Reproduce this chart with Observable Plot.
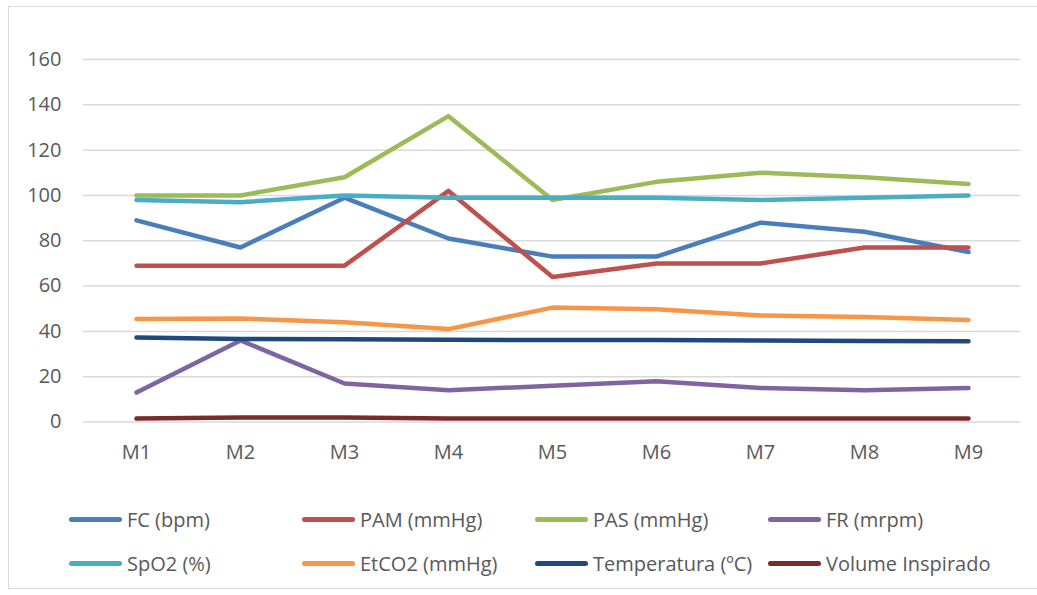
<!DOCTYPE html>
<html>
<head>
<meta charset="utf-8">
<script src="https://cdn.jsdelivr.net/npm/d3@7"></script>
<script src="https://cdn.jsdelivr.net/npm/@observablehq/plot@0.6"></script>
<style>
  html, body { margin: 0; padding: 0; background: #fff; }
  body { width: 1037px; height: 595px; position: relative; overflow: hidden; font-family: "Open Sans", sans-serif; }
  #frame { position: absolute; left: 8px; top: 6px; width: 1060px; height: 583px; border: 1.5px solid #d9d9d9; box-sizing: border-box; }
  #chart { position: absolute; left: 0; top: 0; }
  #legend { position: absolute; left: 0; top: 497px; width: 1037px; }
  .row { position: relative; height: 44px; }
  .item { position: absolute; top: 0; height: 44px; display: flex; align-items: center; font-size: 20px; color: #595959; white-space: nowrap; }
  .sw { width: 53px; height: 5px; border-radius: 3px; margin-right: 5px; }
</style>
</head>
<body>
<div id="frame"></div>
<div id="chart"></div>
<div id="legend"></div>
<script>
const months = ["M1","M2","M3","M4","M5","M6","M7","M8","M9"];
const seriesNames = ["FC (bpm)","PAM (mmHg)","PAS (mmHg)","FR (mrpm)","SpO2 (%)","EtCO2 (mmHg)","Temperatura (ºC)","Volume Inspirado"];
const seriesColors = ["#4A7EBB","#C0504D","#9BBB59","#8064A2","#4BACC6","#F79646","#1F497D","#772C2A"];
const fc = [89, 77, 99, 81, 73, 73, 88, 84, 75];
const pam = [69, 69, 69, 102, 64, 70, 70, 77, 77];
const pas = [100, 100, 108, 135, 98, 106, 110, 108, 105];
const fr = [13, 36, 17, 14, 16, 18, 15, 14, 15];
const spo2 = [98, 97, 100, 99, 99, 99, 98, 99, 100];
const etco2 = [45.5, 45.7, 44, 41, 50.5, 49.8, 47, 46.3, 45];
const temp = [37.3, 36.6, 36.5, 36.3, 36.2, 36.2, 36, 35.8, 35.6];
const volume = [1.5, 2, 2, 1.5, 1.5, 1.5, 1.5, 1.5, 1.5];
const yTicks = [0, 20, 40, 60, 80, 100, 120, 140, 160];

const seriesValues = [fc, pam, pas, fr, spo2, etco2, temp, volume];
const data = [];
seriesNames.forEach((name, i) => {
  months.forEach((m, j) => data.push({series: name, month: m, value: seriesValues[i][j]}));
});

const chart = Plot.plot({
  width: 1037,
  height: 490,
  marginTop: 59,
  marginBottom: 68.5,
  marginLeft: 83,
  marginRight: 17,
  style: {fontFamily: "'Open Sans', sans-serif", fontSize: "20px", color: "#595959", background: "transparent"},
  x: {type: "point", domain: months, padding: 0.5, label: null},
  y: {domain: [0, 160], ticks: yTicks, label: null},
  color: {domain: seriesNames, range: seriesColors},
  marks: [
    Plot.gridY(yTicks, {stroke: "#d9d9d9", strokeOpacity: 1, strokeWidth: 1.5}),
    Plot.axisY(yTicks, {tickSize: 0, tickPadding: 22, fontSize: 20, fill: "#595959", label: null}),
    Plot.axisX({tickSize: 0, tickPadding: 23, fontSize: 20, fill: "#595959", label: null}),
    Plot.line(data, {x: "month", y: "value", z: "series", stroke: "series", strokeWidth: 4.5, strokeLinecap: "round", strokeLinejoin: "round"})
  ]
});
document.getElementById("chart").appendChild(chart);

const legend = document.getElementById("legend");
for (let r = 0; r < 2; r++) {
  const row = document.createElement("div");
  row.className = "row";
  for (let c = 0; c < 4; c++) {
    const k = r * 4 + c;
    const item = document.createElement("div");
    item.className = "item";
    item.style.left = (69 + c * 233) + "px";
    const sw = document.createElement("div");
    sw.className = "sw";
    sw.style.background = seriesColors[k];
    const t = document.createElement("span");
    t.textContent = seriesNames[k];
    item.appendChild(sw);
    item.appendChild(t);
    row.appendChild(item);
  }
  legend.appendChild(row);
}
</script>
</body>
</html>
